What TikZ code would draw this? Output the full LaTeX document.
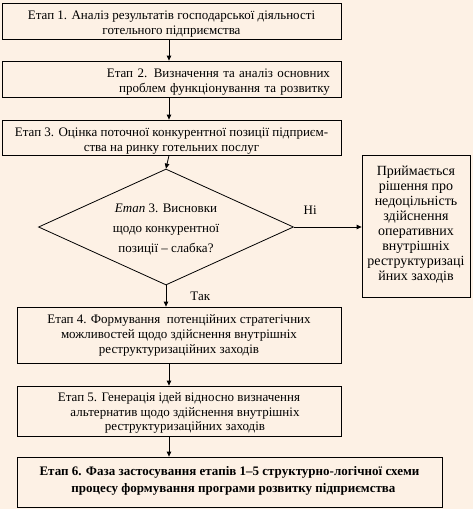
\documentclass[tikz,border=0pt]{standalone}
\usepackage{fontspec}
\setmainfont{Liberation Serif}
\usetikzlibrary{shapes.geometric,arrows.meta}
\definecolor{bg}{RGB}{253,241,229}
\newcommand{\dn}{\rule{0pt}{15pt}}
\newcommand{\dnb}{\rule{0pt}{13pt}}
\begin{document}
\begin{tikzpicture}[x=1pt,y=-1pt,
  txt/.style={font=\fontsize{13}{15}\selectfont},
  box/.style={draw,line width=0.8pt,inner sep=0pt,align=center,txt},
  arr/.style={-{Triangle[length=5pt,width=4.5pt]},line width=0.8pt},
  lbl/.style={txt,inner sep=0pt}]
\fill[bg] (0,0) rectangle (473,509);
\useasboundingbox (0,0) rectangle (473,509);
\coordinate (ax) at (169,0);
\node[box,minimum width=339pt,minimum height=36pt] (b1) at (171.5,21)
  {\dn Етап 1.  Аналіз результатів господарської діяльності\\готельного підприємства};
\node[box,minimum width=339pt,minimum height=36pt,text width=317pt,align=right,inner xsep=11pt] (b2) at (171.5,79)
  {\dn Етап 2. Визначення та аналіз основних\\проблем функціонування та розвитку};
\node[box,minimum width=339pt,minimum height=35pt] (b3) at (171.5,137.5)
  {\dn Етап 3. Оцінка поточної конкурентної позиції підприєм-\\ства на ринку готельних послуг};
\node[draw,line width=0.8pt,diamond,inner sep=0pt,minimum width=255pt,minimum height=116pt,aspect=2.2,align=center,font=\fontsize{13}{20}\selectfont] (d) at (166,227)
  {\rule{0pt}{14pt}\textit{Етап} 3. Висновки\\щодо конкурентної\\позиції – слабка?};
\node[box,minimum width=108pt,minimum height=142pt,font=\fontsize{14}{15}\selectfont] (r) at (416,226)
  {Приймається\\рішення про\\недоцільність\\здійснення\\оперативних\\внутрішніх\\реструктуризаці\\йних заходів\rule[-6pt]{0pt}{0pt}};
\node[box,minimum width=324pt,minimum height=56pt] (b4) at (179,335)
  {Етап 4. Формування \ потенційних стратегічних\\можливостей щодо здійснення внутрішніх\\реструктуризаційних заходів};
\node[box,minimum width=324pt,minimum height=50pt,font=\fontsize{13}{14.5}\selectfont] (b5) at (179,411)
  {\dnb Етап 5.  Генерація ідей відносно визначення\\\hspace*{12pt}альтернатив щодо здійснення внутрішніх\\\hspace*{12pt}реструктуризаційних заходів};
\node[box,minimum width=425pt,minimum height=50pt,font=\bfseries\fontsize{13}{16.5}\selectfont] (b6) at (229.5,482)
  {Етап 6. Фаза застосування етапів 1–5 структурно-логічної схеми\\\hspace*{8pt}процесу формування програми розвитку підприємства\rule[-5pt]{0pt}{0pt}};
\draw[arr] (b1.south -| ax) -- (b2.north -| ax);
\draw[arr] (b2.south -| ax) -- (b3.north -| ax);
\draw[arr] (b3.south -| ax) -- (d.north);
\draw[arr] (d.east) -- (r.west |- d.east) node[lbl,pos=0.24,above=12pt] (ni) {Ні};
\draw[arr] (d.south) -- (b4.north -| d.south) node[lbl,pos=0.5,right=24pt] (tak) {Так};
\draw[arr] (b4.south -| ax) -- (b5.north -| ax);
\draw[arr] (b5.south -| ax) -- (b6.north -| ax);
\end{tikzpicture}
\end{document}
